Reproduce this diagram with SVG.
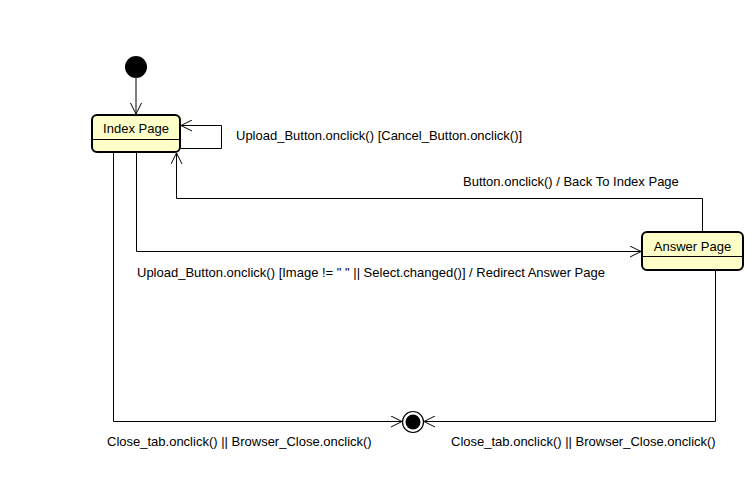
<svg xmlns="http://www.w3.org/2000/svg" width="752" height="490" viewBox="0 0 752 490">
<style>
.state{fill:#FEFFC8;stroke:#000;stroke-width:2}
.div{stroke:#000;stroke-width:1}
.lbl{font-family:"Liberation Sans",Arial,sans-serif;font-size:13px;fill:#000}
.name{font-family:"Liberation Sans",Arial,sans-serif;font-size:13px;fill:#000;text-anchor:middle}
.edge{fill:none;stroke:#000;stroke-width:1}
</style>
<defs>
<marker id="arr" markerWidth="12" markerHeight="12" refX="11" refY="6" orient="auto" markerUnits="userSpaceOnUse">
<path d="M0,0.5 L11,6 L0,11.5" fill="none" stroke="#000" stroke-width="1"/>
</marker>
</defs>
<rect width="752" height="490" fill="#fff"/>
<g id="initial"><circle cx="136" cy="67" r="11" fill="#000"/></g>
<g id="index">
<rect class="state" x="92" y="115" width="88" height="37" rx="5"/>
<line class="div" x1="93" y1="139.5" x2="179" y2="139.5"/>
<text class="name" x="136" y="133">Index Page</text>
</g>
<g id="answer">
<rect class="state" x="642" y="232" width="101" height="38" rx="5"/>
<line class="div" x1="643" y1="256.5" x2="742" y2="256.5"/>
<text class="name" x="692.5" y="251">Answer Page</text>
</g>
<g id="final">
<circle cx="413" cy="422" r="10.5" fill="#fff" stroke="#000" stroke-width="1.2"/>
<circle cx="413" cy="422" r="7.5" fill="#000"/>
</g>
<g id="connectors">
<path class="edge" d="M136,78 L136,114" marker-end="url(#arr)"/>
<path class="edge" d="M180.5,148.5 L221.5,148.5 L221.5,125.5 L181,125.5" marker-end="url(#arr)"/>
<path class="edge" d="M702.5,232 L702.5,198.5 L176.5,198.5 L176.5,153" marker-end="url(#arr)"/>
<path class="edge" d="M136.5,152 L136.5,251.5 L641,251.5" marker-end="url(#arr)"/>
<path class="edge" d="M113.5,152 L113.5,421.5 L402,421.5" marker-end="url(#arr)"/>
<path class="edge" d="M715.5,270 L715.5,421.5 L424,421.5" marker-end="url(#arr)"/>
</g>
<g id="labels">
<text class="lbl" x="236" y="140">Upload_Button.onclick() [Cancel_Button.onclick()]</text>
<text class="lbl" x="463" y="186">Button.onclick() / Back To Index Page</text>
<text class="lbl" x="137" y="277">Upload_Button.onclick() [Image != " " || Select.changed()] / Redirect Answer Page</text>
<text class="lbl" x="107" y="446">Close_tab.onclick() || Browser_Close.onclick()</text>
<text class="lbl" x="451" y="446">Close_tab.onclick() || Browser_Close.onclick()</text>
</g>
</svg>
